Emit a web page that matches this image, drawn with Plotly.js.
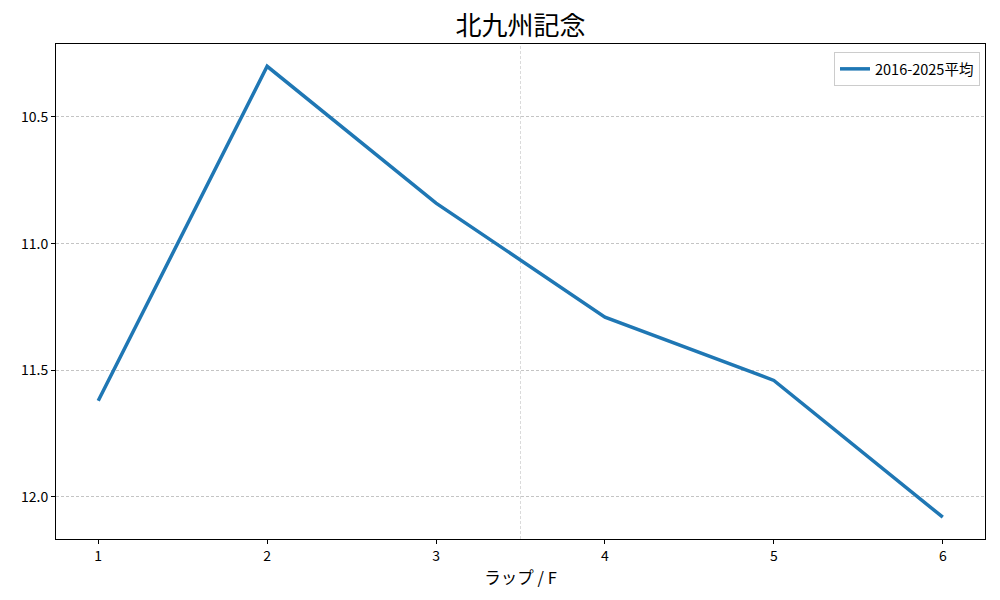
<!DOCTYPE html>
<html>
<head>
<meta charset="utf-8">
<script src="https://cdn.plot.ly/plotly-3.0.1.min.js"></script>
<style>body{margin:0;padding:0;background:#fff;}#chart{width:1000px;height:600px;}</style>
</head>
<body>
<div id="chart"></div>
<script>
const laps = [1, 2, 3, 4, 5, 6];
const avgTimes = [11.62, 10.30, 10.84, 11.29, 11.54, 12.08];
const seriesName = "2016-2025平均";
const chartTitle = "北九州記念";
const xLabel = "ラップ / F";
const yTicks = [10.5, 11.0, 11.5, 12.0];
const yTickText = ["10.5", "11.0", "11.5", "12.0"];
const markerX = 3.5;

const font = "Noto Sans CJK JP, sans-serif";
const trace = {
  x: laps, y: avgTimes, type: "scatter", mode: "lines", name: seriesName,
  line: {color: "#1f77b4", width: 3.5}
};
const layout = {
  width: 1000, height: 600,
  margin: {l: 56, r: 15, t: 44, b: 61},
  paper_bgcolor: "#fff", plot_bgcolor: "#fff",
  font: {family: font, color: "#000", size: 14},
  title: {text: chartTitle, font: {family: font, size: 26, color: "#000"}, xref: "paper", x: 0.5, xanchor: "center", y: 0.957, yanchor: "middle"},
  showlegend: true,
  legend: {x: 0.9946, y: 0.984, xanchor: "right", yanchor: "top", bgcolor: "rgba(255,255,255,0.8)", bordercolor: "#cccccc", borderwidth: 1, itemwidth: 30, font: {family: font, size: 14.5}},
  xaxis: {
    range: [0.75, 6.25], tickvals: laps, ticktext: laps.map(String),
    showgrid: false, zeroline: false, showline: true, mirror: true, linecolor: "#000", linewidth: 1,
    ticks: "outside", ticklen: 4, tickcolor: "#000", tickfont: {size: 14},
    title: {text: xLabel, font: {family: font, size: 16.5}, standoff: 8}
  },
  yaxis: {
    range: [12.166, 10.212], tickvals: yTicks, ticktext: yTickText,
    showgrid: true, gridcolor: "#c4c4c4", griddash: "3px,2px", gridwidth: 0.7,
    zeroline: false, showline: true, mirror: true, linecolor: "#000", linewidth: 1,
    ticks: "outside", ticklen: 4, tickcolor: "#000", tickfont: {size: 14}
  },
  shapes: [{type: "line", xref: "x", yref: "paper", x0: markerX, x1: markerX, y0: 0, y1: 1,
    line: {color: "#d0d0d0", width: 0.8, dash: "3px,2px"}, layer: "below"}]
};
Plotly.newPlot("chart", [trace], layout, {displayModeBar: false});
</script>
</body>
</html>
